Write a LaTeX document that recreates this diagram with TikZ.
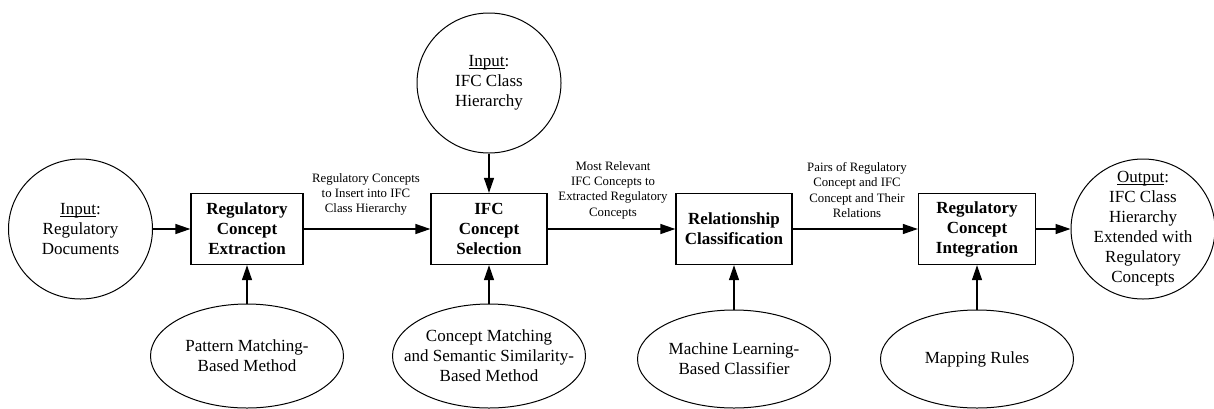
\documentclass[tikz,border=0pt]{standalone}
\usepackage{fontspec}
\setmainfont{Liberation Serif}
\usetikzlibrary{arrows.meta,shapes.geometric}
% underline set just below the baseline, crossing descenders
\newcommand{\undl}[1]{\leavevmode\setbox0=\hbox{#1}\rlap{\rule[-2pt]{\wd0}{0.9pt}}\box0}
\begin{document}
\begin{tikzpicture}[x=1pt,y=-1pt,
  every node/.style={align=center, inner sep=0pt, font=\fontsize{17}{20}\selectfont},
  proc/.style={draw, line width=1.3pt, rectangle, minimum height=71pt,
    font=\bfseries\fontsize{17}{20}\selectfont},
  io/.style={draw, line width=1pt, ellipse, minimum width=144pt, minimum height=140pt},
  tech/.style={draw, line width=1pt, ellipse, minimum width=193pt},
  flow/.style={line width=1.3pt, -{Triangle[length=15pt,width=10pt]}},
  lbl/.style={font=\fontsize{12.8}{15.3}\selectfont}
]
\useasboundingbox (0,0) rectangle (1214,408);

% inputs and output
\node[io] (in) at (80.5,229) {};
\node (intext) at (in) {\undl{Input}:\\Regulatory\\Documents};
\node[io] (top) at (489,83) {};
\node (toptext) at (top) {\undl{Input}:\\IFC Class\\Hierarchy};
\node[io] (out) at (1143,229) {};
\node (outtext) at (out) {\undl{Output}:\\IFC Class\\Hierarchy\\Extended with\\Regulatory\\Concepts};

% processing steps
\node[proc, minimum width=112pt] (b1) at (247,229) {Regulatory\\Concept\\Extraction};
\node[proc, minimum width=116pt] (b2) at (489,229) {IFC\\Concept\\Selection};
\node[proc, minimum width=116pt] (b3) at (734,229) {Relationship\\Classification};
\node[proc, minimum width=117pt] (b4) at (977,229) {Regulatory\\Concept\\Integration};

% supporting methods
\node[tech, minimum height=104pt] (e1) at (247,356) {};
\node (e1text) at (e1) {Pattern Matching-\\Based Method};
\node[tech, minimum height=104pt] (e2) at (489,356) {};
\node (e2text) at (e2) {Concept Matching\\and Semantic Similarity-\\Based Method};
\node[tech, minimum height=98pt] (e3) at (734,359) {};
\node (e3text) at (e3) {Machine Learning-\\Based Classifier};
\node[tech, minimum height=98pt] (e4) at (977,359) {};
\node (e4text) at (e4) {Mapping Rules};

% data passed between steps
\node[lbl] (l1) at (366,194.5) {Regulatory Concepts\\to Insert into IFC\\Class Hierarchy};
\node[lbl] (l2) at (613,190) {Most Relevant\\IFC Concepts to\\Extracted Regulatory\\Concepts};
\node[lbl] (l3) at (857,190) {Pairs of Regulatory\\Concept and IFC\\Concept and Their\\Relations};

% flows
\draw[flow] (in) -- (b1);
\draw[flow] (b1) -- (b2);
\draw[flow] (b2) -- (b3);
\draw[flow] (b3) -- (b4);
\draw[flow] (b4) -- (out);
\draw[flow] (top) -- (b2);
\draw[flow] (e1) -- (b1);
\draw[flow] (e2) -- (b2);
\draw[flow] (e3) -- (b3);
\draw[flow] (e4) -- (b4);
\end{tikzpicture}
\end{document}
